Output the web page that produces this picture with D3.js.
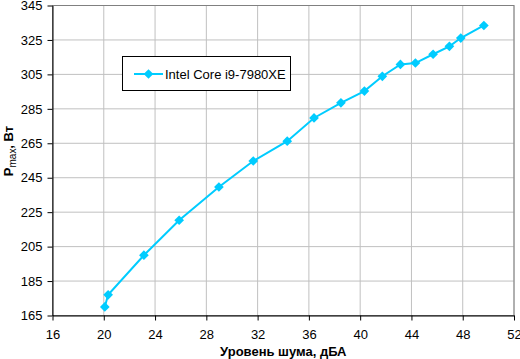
<!DOCTYPE html>
<html><head><meta charset="utf-8">
<script src="https://cdn.jsdelivr.net/npm/d3@7"></script>
<style>body{margin:0;background:#fff}svg{display:block}</style>
</head><body>
<svg id="c" width="520" height="359"></svg>
<script>
const seriesName = "Intel Core i9-7980XE";
const noise = [20.08, 20.34, 23.13, 25.88, 28.98, 31.66, 34.31, 36.4, 38.5, 40.33, 41.73, 43.14, 44.31, 45.69, 46.96, 47.85, 49.65];
const power = [170, 177, 200, 220.3, 239.6, 254.7, 266.2, 279.7, 288.5, 295.3, 303.9, 310.8, 311.6, 316.7, 321.3, 326.1, 333.4];
const xTicks = [16, 20, 24, 28, 32, 36, 40, 44, 48, 52];
const yTicks = [165, 185, 205, 225, 245, 265, 285, 305, 325, 345];

const svg = d3.select("#c");
const L = 52.5, R = 514, T = 5.5, B = 315.5;
const x = d3.scaleLinear().domain([16, 52]).range([L, R]);
const y = d3.scaleLinear().domain([165, 345]).range([B, T]);
const color = "#00CCFF";
const font = "Arial, 'Liberation Sans', sans-serif";

// grid
svg.append("g").selectAll("line.v").data(xTicks.slice(1)).join("line")
  .attr("x1", d => x(d)).attr("x2", d => x(d)).attr("y1", T).attr("y2", B)
  .attr("stroke", "#c0c0c0").attr("stroke-width", 1);
svg.append("g").selectAll("line.h").data(yTicks.slice(1)).join("line")
  .attr("x1", L).attr("x2", R).attr("y1", d => y(d)).attr("y2", d => y(d))
  .attr("stroke", "#c0c0c0").attr("stroke-width", 1);
// plot border (top, right grey)
svg.append("rect").attr("x", L).attr("y", T).attr("width", R - L).attr("height", B - T)
  .attr("fill", "none").attr("stroke", "#808080").attr("stroke-width", 1);

// axes
const xAxis = svg.append("g").attr("transform", `translate(0,${B})`)
  .call(d3.axisBottom(x).tickValues(xTicks).tickSize(5).tickPadding(9).tickSizeOuter(0));
const yAxis = svg.append("g").attr("transform", `translate(${L},0)`)
  .call(d3.axisLeft(y).tickValues(yTicks).tickSize(5).tickPadding(5).tickSizeOuter(0));
[xAxis, yAxis].forEach(g => {
  g.select(".domain").attr("stroke", "#000");
  g.selectAll(".tick line").attr("stroke", "#000");
  g.selectAll(".tick text").attr("fill", "#000").style("font-family", font).style("font-size", "13px");
});

// line
const pts = noise.map((v, i) => [v, power[i]]);
svg.append("path").datum(pts)
  .attr("d", d3.line().x(d => x(d[0])).y(d => y(d[1])))
  .attr("fill", "none").attr("stroke", color).attr("stroke-width", 2);
const diamond = d3.symbol().type(d3.symbolDiamond2).size(60);
svg.append("g").selectAll("path").data(pts).join("path")
  .attr("transform", d => `translate(${x(d[0])},${y(d[1])})`)
  .attr("d", diamond).attr("fill", color);

// legend
const lg = svg.append("g");
lg.append("rect").attr("x", 122.5).attr("y", 56.5).attr("width", 168).attr("height", 34)
  .attr("fill", "#fff").attr("stroke", "#000").attr("stroke-width", 1);
lg.append("line").attr("x1", 134).attr("x2", 163).attr("y1", 74).attr("y2", 74)
  .attr("stroke", color).attr("stroke-width", 2);
lg.append("path").attr("transform", "translate(148.5,74)").attr("d", diamond).attr("fill", color);
lg.append("text").attr("x", 165).attr("y", 78.5).text(seriesName)
  .style("font-family", font).style("font-size", "13px").attr("fill", "#000");

// axis titles
svg.append("text").attr("x", (L + R) / 2).attr("y", 356).attr("text-anchor", "middle")
  .style("font-family", font).style("font-size", "13px").style("font-weight", "bold")
  .text("Уровень шума, дБА");
const yt = svg.append("text").attr("transform", "translate(13,151) rotate(-90)").attr("text-anchor", "middle")
  .style("font-family", font).style("font-size", "13px").style("font-weight", "bold");
yt.append("tspan").text("P");
yt.append("tspan").attr("dy", 3).style("font-size", "10px").style("font-weight", "normal").text("max");
yt.append("tspan").attr("dy", -3).text(", Вт");
</script>
</body></html>
